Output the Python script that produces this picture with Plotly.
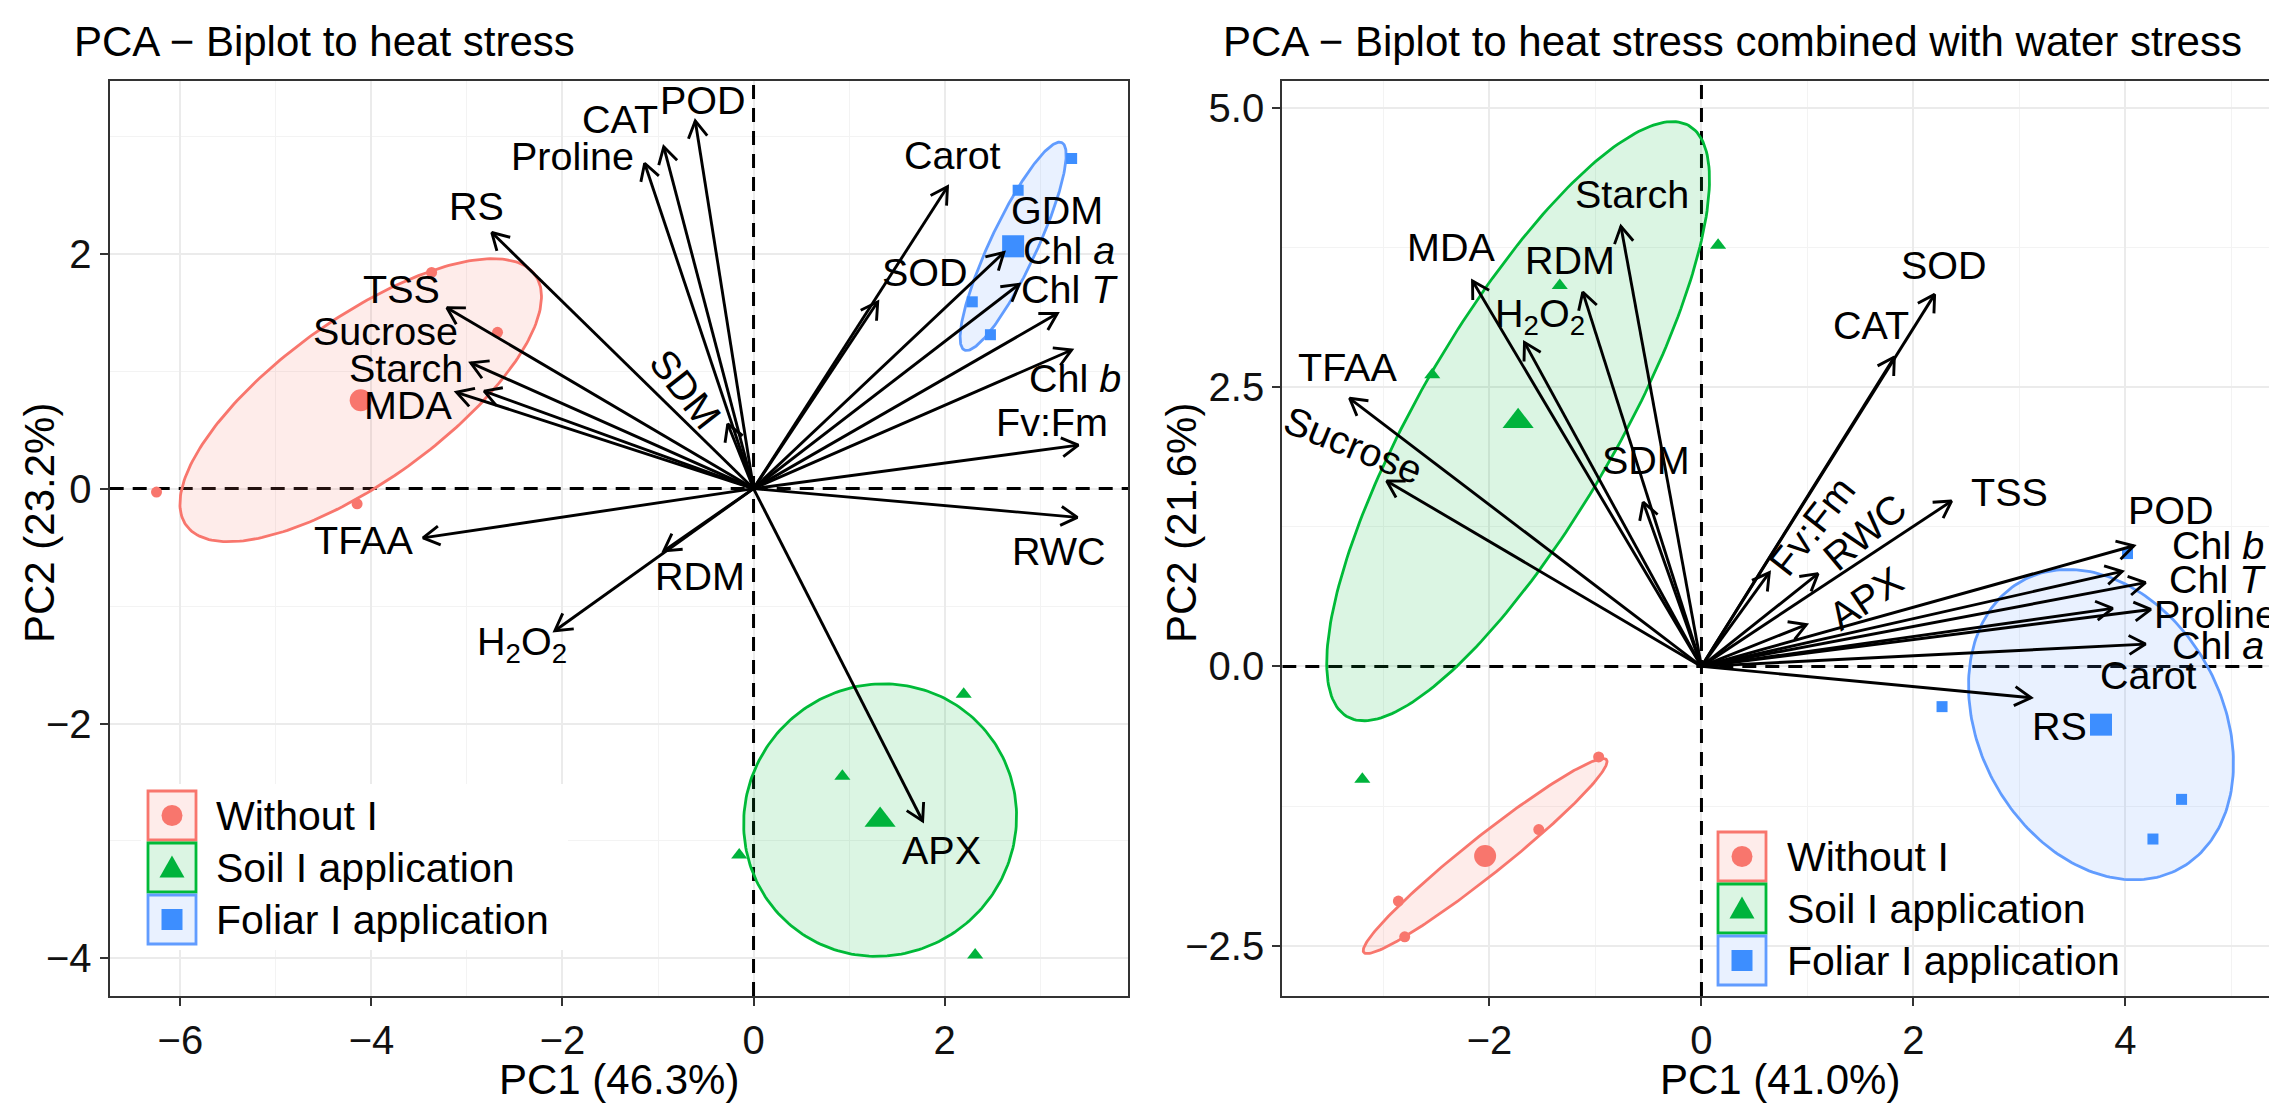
import numpy as np
import plotly.graph_objects as go

W, H = 2277, 1110
FONT = "Liberation Sans, Arial, sans-serif"

# ---------------- data ----------------
GROUPS = ["Without I", "Soil I application", "Foliar I application"]
LINE_COLORS = ["#F8766D", "#00BA38", "#619CFF"]
POINT_COLORS = ["#F8766D", "#00B33C", "#3D8EFF"]
FILL_COLORS = ["rgba(248,118,109,0.14)", "rgba(0,186,56,0.14)", "rgba(97,156,255,0.14)"]
SYMBOLS = ["circle", "triangle-up", "square"]

# Panel 1: heat stress - individuals
hs_without_pc1 = [-6.25, -4.15, -3.37, -2.68]
hs_without_pc2 = [-0.03, -0.13, 1.84, 1.33]
hs_soil_pc1 = [2.20, 0.93, -0.15, 2.32]
hs_soil_pc2 = [-1.75, -2.45, -3.12, -3.97]
hs_foliar_pc1 = [3.33, 2.77, 2.29, 2.48]
hs_foliar_pc2 = [2.81, 2.54, 1.59, 1.31]

# Panel 1: variables (arrow tips) and label anchors
hs_vars = ["POD", "CAT", "Proline", "RS", "TSS", "Sucrose", "Starch", "MDA", "SDM",
           "TFAA", "RDM", "H<sub>2</sub>O<sub>2</sub>", "APX", "RWC", "Fv:Fm",
           "Chl <i>b</i>", "GDM", "Chl <i>T</i>", "Chl <i>a</i>", "SOD", "Carot"]
hs_var_pc1 = [-0.61, -0.94, -1.14, -2.74, -3.21, -2.82, -2.96, -3.11, -0.27,
              -3.46, -0.94, -2.08, 1.77, 3.39, 3.40,
              3.33, 3.18, 2.78, 2.62, 1.30, 2.03]
hs_var_pc2 = [3.13, 2.91, 2.77, 2.18, 1.54, 0.83, 1.07, 0.82, 0.55,
              -0.42, -0.53, -1.21, -2.83, -0.245, 0.37,
              1.18, 1.49, 1.74, 2.01, 1.59, 2.57]
hs_lab_pc1 = [-0.53, -1.40, -1.90, -2.90, -3.69, -3.85, -3.64, -3.62, -0.71,
              -4.08, -0.56, -2.42, 1.97, 3.20, 3.12,
              3.37, 3.18, 3.31, 3.30, 1.80, 2.08]
hs_lab_pc2 = [3.31, 3.15, 2.83, 2.41, 1.70, 1.34, 1.03, 0.71, 0.85,
              -0.44, -0.74, -1.32, -3.08, -0.535, 0.57,
              0.94, 2.37, 1.70, 2.03, 1.84, 2.84]
hs_lab_angle = [0, 0, 0, 0, 0, 0, 0, 0, 52,
                0, 0, 0, 0, 0, 0,
                0, 0, 0, 0, 0, 0]

# Panel 2: heat + water stress - individuals
hw_without_pc1 = [-0.97, -1.535, -2.86, -2.80]
hw_without_pc2 = [-0.81, -1.46, -2.10, -2.42]
hw_soil_pc1 = [0.157, -1.337, -2.54, -3.20]
hw_soil_pc2 = [3.77, 3.41, 2.61, -1.01]
hw_foliar_pc1 = [2.27, 4.02, 4.53, 4.26]
hw_foliar_pc2 = [-0.36, 1.01, -1.19, -1.545]

hw_vars = ["Starch", "MDA", "RDM", "H<sub>2</sub>O<sub>2</sub>", "TFAA", "Sucrose", "SDM",
           "SOD", "CAT", "Fv:Fm", "RWC", "TSS", "APX", "POD", "Chl <i>b</i>",
           "Chl <i>T</i>", "Proline", "Chl <i>a</i>", "Carot", "RS"]
hw_var_pc1 = [-0.76, -2.16, -1.12, -1.67, -3.32, -2.97, -0.55,
              2.20, 1.82, 0.64, 1.10, 2.36, 0.99, 4.08, 3.97,
              4.19, 4.24, 4.19, 3.88, 3.11]
hw_var_pc2 = [3.94, 3.45, 3.35, 2.90, 2.40, 1.66, 1.47,
              3.33, 2.77, 0.84, 0.83, 1.48, 0.375, 1.08, 0.85,
              0.75, 0.51, 0.20, 0.52, -0.28]
hw_lab_pc1 = [-0.66, -2.36, -1.24, -1.52, -3.34, -3.28, -0.52,
              2.29, 1.60, 1.04, 1.54, 2.91, 1.55, 4.43, 4.87,
              4.87, 4.85, 4.87, 4.22, 3.375]
hw_lab_pc2 = [4.23, 3.75, 3.64, 3.14, 2.68, 1.985, 1.85,
              3.59, 3.06, 1.255, 1.20, 1.56, 0.615, 1.40, 1.09,
              0.78, 0.47, 0.19, -0.08, -0.53]
hw_lab_angle = [0, 0, 0, 0, 0, 22, 0,
                0, 0, -52, -40, 0, -34, 0, 0,
                0, 0, 0, 0, 0]

# ---------------- layout geometry (pixels) ----------------
P1 = dict(x0=101.7, x1=1120.0, y0=73.0, y1=988.0, xr=(-6.74, 3.92), yr=(-4.32, 3.47),
          xt=[-6, -4, -2, 0, 2], xm=[-5, -3, -1, 1, 3], yt=[-4, -2, 0, 2], ym=[-3, -1, 1, 3])
P2 = dict(x0=1274.3, x1=2270.0, y0=73.0, y1=988.0, xr=(-3.955, 5.44), yr=(-2.95, 5.24),
          xt=[-2, 0, 2, 4], xm=[-3, -1, 1, 3, 5], yt=[-2.5, 0, 2.5, 5.0], ym=[-1.25, 1.25, 3.75])


def scale(p):
    sx = (p["x1"] - p["x0"]) / (p["xr"][1] - p["xr"][0])
    sy = (p["y1"] - p["y0"]) / (p["yr"][1] - p["yr"][0])
    return sx, sy


def conf_ellipse(x, y, n=240):
    pts = np.vstack([x, y]).astype(float)
    m = pts.mean(axis=1)
    cov = np.cov(pts) / pts.shape[1]
    r = np.sqrt(5.991464547)
    vals, vecs = np.linalg.eigh(cov)
    t = np.linspace(0, 2 * np.pi, n)
    circ = np.vstack([np.cos(t), np.sin(t)])
    e = vecs @ (np.sqrt(np.clip(vals, 0, None))[:, None] * circ) * r + m[:, None]
    return e[0], e[1]


def arrow_paths(tx, ty, sx, sy, L=19.0, ang=np.deg2rad(30)):
    xs, ys = [], []
    for x, y in zip(tx, ty):
        xs += [0, x, None]
        ys += [0, y, None]
        th = np.arctan2(y * sy, x * sx)
        wings = []
        for s in (1, -1):
            a = th + np.pi + s * ang
            wings.append((x + L * np.cos(a) / sx, y + L * np.sin(a) / sy))
        xs += [wings[0][0], x, wings[1][0], None]
        ys += [wings[0][1], y, wings[1][1], None]
    return xs, ys


fig = go.Figure()
annotations = []
shapes = []

panels = [
    (P1, "x", "y", [(hs_without_pc1, hs_without_pc2), (hs_soil_pc1, hs_soil_pc2), (hs_foliar_pc1, hs_foliar_pc2)],
     hs_vars, hs_var_pc1, hs_var_pc2, hs_lab_pc1, hs_lab_pc2, hs_lab_angle),
    (P2, "x2", "y2", [(hw_without_pc1, hw_without_pc2), (hw_soil_pc1, hw_soil_pc2), (hw_foliar_pc1, hw_foliar_pc2)],
     hw_vars, hw_var_pc1, hw_var_pc2, hw_lab_pc1, hw_lab_pc2, hw_lab_angle),
]

DASH = dict(color="black", width=3.0, dash="14px,9px")

for p, xa, ya, groups, vnames, vx, vy, lx, ly, la in panels:
    sx, sy = scale(p)
    # dashed reference lines at 0 spanning the axis ranges
    fig.add_trace(go.Scatter(x=[p["xr"][0], p["xr"][1], None, 0, 0],
                             y=[0, 0, None, p["yr"][0], p["yr"][1]],
                             mode="lines", line=DASH, xaxis=xa, yaxis=ya,
                             showlegend=False, hoverinfo="skip", cliponaxis=True))
    # ellipses
    for gi, (gx, gy) in enumerate(groups):
        ex, ey = conf_ellipse(gx, gy)
        fig.add_trace(go.Scatter(x=ex, y=ey, mode="lines", fill="toself",
                                 fillcolor=FILL_COLORS[gi], line=dict(color=LINE_COLORS[gi], width=2.8),
                                 xaxis=xa, yaxis=ya, showlegend=False, hoverinfo="skip"))
    # points + centroids
    for gi, (gx, gy) in enumerate(groups):
        small = 14 if SYMBOLS[gi] == "triangle-up" else 11
        big = 27 if SYMBOLS[gi] == "triangle-up" else 22
        fig.add_trace(go.Scatter(x=gx, y=gy, mode="markers",
                                 marker=dict(symbol=SYMBOLS[gi], size=small, color=POINT_COLORS[gi]),
                                 xaxis=xa, yaxis=ya, showlegend=False, name=GROUPS[gi]))
        fig.add_trace(go.Scatter(x=[float(np.mean(gx))], y=[float(np.mean(gy))], mode="markers",
                                 marker=dict(symbol=SYMBOLS[gi], size=big, color=POINT_COLORS[gi]),
                                 xaxis=xa, yaxis=ya, showlegend=False, name=GROUPS[gi]))
    # arrows
    axs, ays = arrow_paths(vx, vy, sx, sy)
    fig.add_trace(go.Scatter(x=axs, y=ays, mode="lines", line=dict(color="black", width=2.9),
                             xaxis=xa, yaxis=ya, showlegend=False, hoverinfo="skip"))
    for name, x, y, a in zip(vnames, lx, ly, la):
        annotations.append(dict(x=x, y=y, xref=xa, yref=ya, text=name, showarrow=False,
                                textangle=a, xanchor="center", yanchor="middle",
                                font=dict(family=FONT, size=39.5, color="black")))


def axis(p, which):
    if which == "x":
        dom = [p["x0"] / W, p["x1"] / W]
        rng, tv, mv = p["xr"], p["xt"], p["xm"]
    else:
        dom = [1 - p["y1"] / H, 1 - p["y0"] / H]
        rng, tv, mv = p["yr"], p["yt"], p["ym"]
    d = dict(domain=dom, range=list(rng), autorange=False, tickvals=tv,
             showgrid=True, gridcolor="#EBEBEB", gridwidth=2.2, zeroline=False,
             showline=True, mirror=True, linecolor="#333333", linewidth=2.2,
             ticks="outside", ticklen=8, tickwidth=2.2, tickcolor="#333333",
             tickfont=dict(family=FONT, size=40, color="#111111"),
             minor=dict(tickvals=mv, showgrid=True, gridcolor="#F3F3F3", gridwidth=1.2, ticks=""),
             fixedrange=True)
    return d


xa1 = axis(P1, "x"); xa1["anchor"] = "y"
ya1 = axis(P1, "y"); ya1["anchor"] = "x"
xa2 = axis(P2, "x"); xa2["anchor"] = "y2"
ya2 = axis(P2, "y"); ya2["anchor"] = "x2"; ya2["tickformat"] = ".1f"


def px(x):
    return x / W


def py(y):
    return 1 - y / H


# titles and axis titles
TXT = dict(family=FONT, size=42, color="black")
annotations += [
    dict(x=px(64), y=py(33), xref="paper", yref="paper", text="PCA − Biplot to heat stress",
         showarrow=False, xanchor="left", yanchor="middle", font=TXT),
    dict(x=px(1213), y=py(33), xref="paper", yref="paper",
         text="PCA − Biplot to heat stress combined with water stress",
         showarrow=False, xanchor="left", yanchor="middle", font=TXT),
    dict(x=px((P1["x0"] + P1["x1"]) / 2), y=py(1071), xref="paper", yref="paper", text="PC1 (46.3%)",
         showarrow=False, xanchor="center", yanchor="middle", font=TXT),
    dict(x=px((P2["x0"] + P2["x1"]) / 2), y=py(1071), xref="paper", yref="paper", text="PC1 (41.0%)",
         showarrow=False, xanchor="center", yanchor="middle", font=TXT),
    dict(x=px(32), y=py(515), xref="paper", yref="paper", text="PC2 (23.2%)", textangle=-90,
         showarrow=False, xanchor="center", yanchor="middle", font=TXT),
    dict(x=px(1174), y=py(515), xref="paper", yref="paper", text="PC2 (21.6%)", textangle=-90,
         showarrow=False, xanchor="center", yanchor="middle", font=TXT),
]

# manual legends (ggplot-style boxed keys)
legends = [dict(bx=140, tx=206, ys=[783, 835, 887], bg=(133, 776, 560, 942)),
           dict(bx=1710, tx=1777, ys=[824, 876, 928], bg=None)]
for lg in legends:
    b = lg["bg"]
    if b is not None:
        shapes.append(dict(type="rect", xref="paper", yref="paper", x0=px(b[0]), x1=px(b[2]),
                           y0=py(b[3]), y1=py(b[1]), fillcolor="white", line=dict(width=0), layer="above"))
    for gi, top in enumerate(lg["ys"]):
        x0, x1, y0, y1 = lg["bx"], lg["bx"] + 48, top, top + 49
        shapes.append(dict(type="rect", xref="paper", yref="paper", x0=px(x0), x1=px(x1),
                           y0=py(y1), y1=py(y0), fillcolor="rgba(255,255,255,1)",
                           line=dict(width=0), layer="above"))
        shapes.append(dict(type="rect", xref="paper", yref="paper", x0=px(x0), x1=px(x1),
                           y0=py(y1), y1=py(y0), fillcolor=FILL_COLORS[gi],
                           line=dict(color=LINE_COLORS[gi], width=2.8), layer="above"))
        cx, cy = (x0 + x1) / 2, (y0 + y1) / 2
        if SYMBOLS[gi] == "circle":
            r = 10.5
            shapes.append(dict(type="circle", xref="paper", yref="paper", x0=px(cx - r), x1=px(cx + r),
                               y0=py(cy + r), y1=py(cy - r), fillcolor=POINT_COLORS[gi],
                               line=dict(width=0), layer="above"))
        elif SYMBOLS[gi] == "triangle-up":
            path = "M {:.5f},{:.5f} L {:.5f},{:.5f} L {:.5f},{:.5f} Z".format(
                px(cx - 12.5), py(cy + 10), px(cx + 12.5), py(cy + 10), px(cx), py(cy - 12))
            shapes.append(dict(type="path", xref="paper", yref="paper", path=path,
                               fillcolor=POINT_COLORS[gi], line=dict(width=0), layer="above"))
        else:
            r = 10.5
            shapes.append(dict(type="rect", xref="paper", yref="paper", x0=px(cx - r), x1=px(cx + r),
                               y0=py(cy + r), y1=py(cy - r), fillcolor=POINT_COLORS[gi],
                               line=dict(width=0), layer="above"))
        annotations.append(dict(x=px(lg["tx"]), y=py(cy), xref="paper", yref="paper", text=GROUPS[gi],
                                showarrow=False, xanchor="left", yanchor="middle",
                                font=dict(family=FONT, size=41, color="black")))

fig.update_layout(
    width=W, height=H, margin=dict(l=0, r=0, t=0, b=0),
    paper_bgcolor="white", plot_bgcolor="white", showlegend=False,
    xaxis=xa1, yaxis=ya1, xaxis2=xa2, yaxis2=ya2,
    annotations=annotations, shapes=shapes,
    font=dict(family=FONT),
)

fig.write_html("out.html")
